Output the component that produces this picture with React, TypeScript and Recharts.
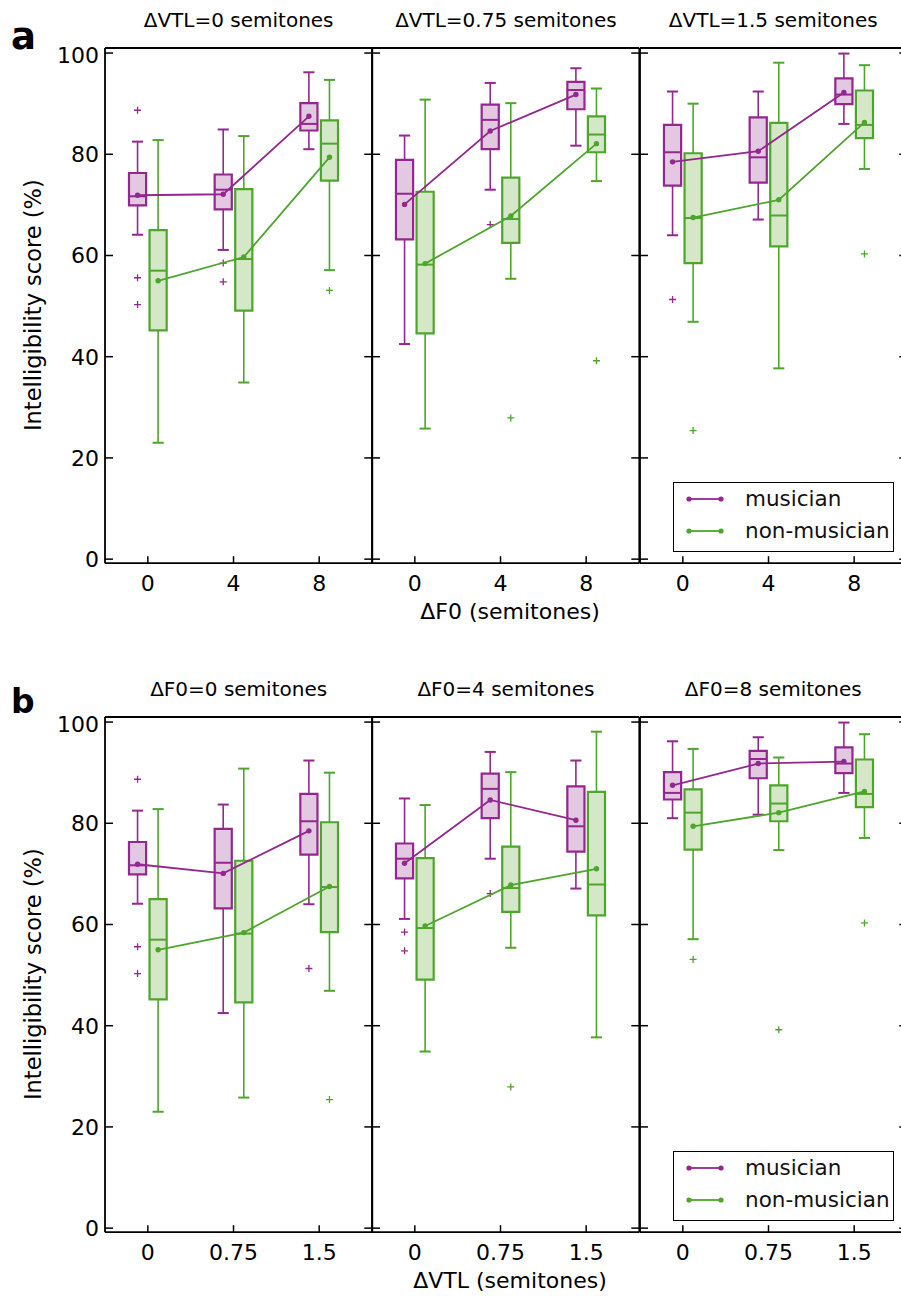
import React from 'react';
import { ComposedChart, XAxis, YAxis, Scatter, ReferenceArea, ReferenceLine } from 'recharts';

const FONT = '"DejaVu Sans", sans-serif';

const vtlSteps = ['0', '0.75', '1.5'];
const f0Steps = ['0', '4', '8'];
const yTicks = [0, 20, 40, 60, 80, 100];
const groupNames = ['musician', 'non-musician'];

type BoxStat = {
  vtl: number; // index into vtlSteps
  f0: number; // index into f0Steps
  lo: number;
  q1: number;
  med: number;
  q3: number;
  hi: number;
  mean: number;
  out: number[];
};

const musician: BoxStat[] = [
  { vtl: 0, f0: 0, lo: 64.1, q1: 69.9, med: 71.7, q3: 76.3, hi: 82.5, mean: 71.9, out: [88.7, 55.6, 50.3] },
  { vtl: 0, f0: 1, lo: 61.1, q1: 69.1, med: 73.0, q3: 76.0, hi: 84.9, mean: 72.1, out: [58.5, 54.8] },
  { vtl: 0, f0: 2, lo: 81.0, q1: 84.7, med: 86.0, q3: 90.1, hi: 96.2, mean: 87.5, out: [] },
  { vtl: 1, f0: 0, lo: 42.5, q1: 63.2, med: 72.2, q3: 78.9, hi: 83.7, mean: 70.1, out: [] },
  { vtl: 1, f0: 1, lo: 73.0, q1: 81.0, med: 86.8, q3: 89.8, hi: 94.1, mean: 84.6, out: [66.1] },
  { vtl: 1, f0: 2, lo: 81.7, q1: 88.9, med: 92.7, q3: 94.3, hi: 97.0, mean: 91.8, out: [] },
  { vtl: 2, f0: 0, lo: 64.0, q1: 73.8, med: 80.4, q3: 85.8, hi: 92.4, mean: 78.5, out: [51.3] },
  { vtl: 2, f0: 1, lo: 67.1, q1: 74.4, med: 79.4, q3: 87.3, hi: 92.4, mean: 80.6, out: [] },
  { vtl: 2, f0: 2, lo: 86.0, q1: 89.9, med: 91.8, q3: 95.0, hi: 99.9, mean: 92.2, out: [] },
];

const nonMusician: BoxStat[] = [
  { vtl: 0, f0: 0, lo: 23.0, q1: 45.2, med: 57.0, q3: 65.0, hi: 82.8, mean: 55.0, out: [] },
  { vtl: 0, f0: 1, lo: 34.9, q1: 49.1, med: 59.3, q3: 73.1, hi: 83.6, mean: 59.7, out: [] },
  { vtl: 0, f0: 2, lo: 57.1, q1: 74.8, med: 82.1, q3: 86.7, hi: 94.7, mean: 79.4, out: [53.1] },
  { vtl: 1, f0: 0, lo: 25.8, q1: 44.6, med: 58.2, q3: 72.6, hi: 90.8, mean: 58.4, out: [] },
  { vtl: 1, f0: 1, lo: 55.4, q1: 62.5, med: 67.2, q3: 75.4, hi: 90.1, mean: 67.8, out: [27.9] },
  { vtl: 1, f0: 2, lo: 74.7, q1: 80.4, med: 83.9, q3: 87.5, hi: 93.0, mean: 82.1, out: [39.2] },
  { vtl: 2, f0: 0, lo: 46.9, q1: 58.5, med: 67.4, q3: 80.2, hi: 90.0, mean: 67.5, out: [25.4] },
  { vtl: 2, f0: 1, lo: 37.7, q1: 61.8, med: 67.9, q3: 86.2, hi: 98.1, mean: 71.0, out: [] },
  { vtl: 2, f0: 2, lo: 77.1, q1: 83.2, med: 85.8, q3: 92.6, hi: 97.6, mean: 86.3, out: [60.3] },
];

const MUS_COLOR = '#93278f';
const MUS_FILL = '#e3c8e1';
const NON_COLOR = '#4da62b';
const NON_FILL = '#d4e8c8';

// layout (px)
const PLOT_LEFT = [105, 372.3, 639.6];
const PLOT_W = 267.3;
const ROW_TOP = [47.6, 716.6];
const PLOT_H = 515.2;
const YW = 60;
const PAD = 5;
const XH = 45;

const X_DOMAIN: [number, number] = [-0.5, 2.62];
const Y_DOMAIN: [number, number] = [-0.8, 101];
const BOX_HALF = 0.1;
const CAP_HALF = 0.065;

type CatKey = 'vtl' | 'f0';

const boxMarks = (stats: BoxStat[], catKey: CatKey, off: number, color: string, fill: string, id: string) =>
  stats.flatMap((s, i) => {
    const c = s[catKey] + off;
    const line = (k: string, a: { x: number; y: number }, b: { x: number; y: number }, w = 1.6) => (
      <ReferenceLine key={`${id}-${k}-${i}`} segment={[a, b]} stroke={color} strokeWidth={w} ifOverflow="visible" />
    );
    return [
      line('wl', { x: c, y: s.lo }, { x: c, y: s.q1 }),
      line('wh', { x: c, y: s.q3 }, { x: c, y: s.hi }),
      line('cl', { x: c - CAP_HALF, y: s.lo }, { x: c + CAP_HALF, y: s.lo }, 2),
      line('ch', { x: c - CAP_HALF, y: s.hi }, { x: c + CAP_HALF, y: s.hi }, 2),
      <ReferenceArea
        key={`${id}-box-${i}`}
        x1={c - BOX_HALF}
        x2={c + BOX_HALF}
        y1={s.q1}
        y2={s.q3}
        fill={fill}
        fillOpacity={1}
        stroke={color}
        strokeWidth={2.2}
        ifOverflow="visible"
      />,
      line('md', { x: c - BOX_HALF, y: s.med }, { x: c + BOX_HALF, y: s.med }, 2),
    ];
  });

const plusShape = (color: string) => (p: any) => (
  <path d={`M${p.cx - 3.5},${p.cy}h7M${p.cx},${p.cy - 3.5}v7`} stroke={color} strokeWidth={1.3} fill="none" />
);
const dotShape = (color: string) => (p: any) => <circle cx={p.cx} cy={p.cy} r={2.7} fill={color} />;

interface PanelProps {
  left: number;
  top: number;
  mus: BoxStat[];
  non: BoxStat[];
  catKey: CatKey;
  tickLabels: string[];
  showY: boolean;
}

const axisLine = { stroke: '#000', strokeWidth: 1.8 };
const tickLine = { stroke: '#000', strokeWidth: 1.5 };
const tickText = { fill: '#000', fontSize: 22, fontFamily: FONT };

const Panel = ({ left, top, mus, non, catKey, tickLabels, showY }: PanelProps) => {
  const groups = [
    { stats: mus, off: -0.12, color: MUS_COLOR, fill: MUS_FILL, id: 'm' },
    { stats: non, off: 0.12, color: NON_COLOR, fill: NON_FILL, id: 'n' },
  ];
  return (
    <div style={{ position: 'absolute', left: left - YW, top: top - PAD - 1 }}>
      <ComposedChart width={YW + PLOT_W + PAD + 1} height={PAD + 1 + PLOT_H + XH} margin={{ top: PAD, right: PAD, bottom: 0, left: 0 }}>
        <XAxis
          dataKey="x"
          type="number"
          domain={X_DOMAIN}
          ticks={[0, 1, 2]}
          allowDataOverflow
          height={XH}
          tickSize={-7}
          tickMargin={19}
          axisLine={axisLine}
          tickLine={tickLine}
          tick={tickText}
          tickFormatter={(v: number) => tickLabels[v]}
        />
        <XAxis
          xAxisId="top"
          orientation="top"
          type="number"
          domain={X_DOMAIN}
          ticks={[0, 1, 2]}
          allowDataOverflow
          height={1}
          tickSize={-7}
          axisLine={axisLine}
          tickLine={tickLine}
          tickFormatter={() => ''}
        />
        <YAxis
          type="number"
          domain={Y_DOMAIN}
          ticks={yTicks}
          allowDataOverflow
          width={YW}
          tickSize={-8}
          tickMargin={14}
          axisLine={axisLine}
          tickLine={tickLine}
          tick={tickText}
          tickFormatter={(v: number) => (showY ? String(v) : '')}
        />
        <YAxis
          yAxisId="right"
          orientation="right"
          type="number"
          domain={Y_DOMAIN}
          ticks={yTicks}
          allowDataOverflow
          width={1}
          tickSize={-8}
          axisLine={axisLine}
          tickLine={tickLine}
          tickFormatter={() => ''}
        />
        {groups.flatMap((g) => boxMarks(g.stats, catKey, g.off, g.color, g.fill, g.id))}
        {groups.map((g) => (
          <Scatter
            key={`out-${g.id}`}
            data={g.stats.flatMap((s) => s.out.map((v) => ({ x: s[catKey] + g.off, y: v })))}
            dataKey="y"
            shape={plusShape(g.color)}
            isAnimationActive={false}
          />
        ))}
        {groups.map((g) => (
          <Scatter
            key={`mean-${g.id}`}
            data={g.stats.map((s) => ({ x: s[catKey] + g.off, y: s.mean }))}
            dataKey="y"
            line={{ stroke: g.color, strokeWidth: 1.8 }}
            lineType="joint"
            shape={dotShape(g.color)}
            isAnimationActive={false}
          />
        ))}
      </ComposedChart>
    </div>
  );
};

const LegendBox = ({ top }: { top: number }) => (
  <div
    style={{
      position: 'absolute',
      left: 673,
      top,
      width: 219,
      height: 68,
      border: '1.5px solid #000',
      background: '#fff',
      fontFamily: FONT,
      fontSize: 21.5,
    }}
  >
    {groupNames.map((name, i) => {
      const color = i === 0 ? MUS_COLOR : NON_COLOR;
      const cy = i === 0 ? 16 : 48;
      return (
        <div key={name} style={{ position: 'absolute', left: 0, top: cy - 13, height: 26, width: '100%' }}>
          <svg width={40} height={26} style={{ position: 'absolute', left: 12, top: 0 }}>
            <line x1={3} y1={13} x2={35} y2={13} stroke={color} strokeWidth={1.8} />
            <circle cx={3} cy={13} r={2.6} fill={color} />
            <circle cx={35} cy={13} r={2.6} fill={color} />
          </svg>
          <span style={{ position: 'absolute', left: 71, top: 0, lineHeight: '26px', color: '#111' }}>{name}</span>
        </div>
      );
    })}
  </div>
);

const App = () => {
  const rows = [
    {
      top: ROW_TOP[0],
      catKey: 'f0' as CatKey,
      panelKey: 'vtl' as CatKey,
      ticks: f0Steps,
      titles: vtlSteps.map((v) => `\u0394VTL=${v} semitones`),
      xLabel: '\u0394F0 (semitones)',
      letter: 'a',
    },
    {
      top: ROW_TOP[1],
      catKey: 'vtl' as CatKey,
      panelKey: 'f0' as CatKey,
      ticks: vtlSteps,
      titles: f0Steps.map((v) => `\u0394F0=${v} semitones`),
      xLabel: '\u0394VTL (semitones)',
      letter: 'b',
    },
  ];

  return (
    <div style={{ position: 'absolute', left: 0, top: 0, width: 901, height: 1296, overflow: 'hidden', background: '#fff' }}>
      {rows.map((r, ri) =>
        [0, 1, 2].map((p) => {
          const pick = (list: BoxStat[]) =>
            list.filter((s) => s[r.panelKey] === p).sort((a, b) => a[r.catKey] - b[r.catKey]);
          return (
            <Panel
              key={`${ri}-${p}`}
              left={PLOT_LEFT[p]}
              top={r.top}
              mus={pick(musician)}
              non={pick(nonMusician)}
              catKey={r.catKey}
              tickLabels={r.ticks}
              showY={p === 0}
            />
          );
        })
      )}
      {rows.map((r) => (
        <LegendBox key={`lg-${r.letter}`} top={r.top + 434} />
      ))}
      <svg width={901} height={1296} style={{ position: 'absolute', left: 0, top: 0, pointerEvents: 'none' }}>
        {rows.map((r, ri) => (
          <g key={`txt-${ri}`} fontFamily={FONT} fill="#000">
            <text x={11} y={r.top + (ri === 0 ? 1.5 : -4)} fontSize={ri === 0 ? 37 : 33} fontWeight="bold">
              {r.letter}
            </text>
            {r.titles.map((t, p) => (
              <text key={t} x={PLOT_LEFT[p] + PLOT_W / 2} y={r.top - 20.6} fontSize={20} textAnchor="middle">
                {t}
              </text>
            ))}
            <text
              x={33}
              y={r.top + PLOT_H / 2}
              fontSize={22.5}
              textAnchor="middle"
              dominantBaseline="central"
              transform={`rotate(-90 33 ${r.top + PLOT_H / 2})`}
            >
              Intelligibility score (%)
            </text>
            <text x={510} y={r.top + 571} fontSize={22} textAnchor="middle">
              {r.xLabel}
            </text>
          </g>
        ))}
      </svg>
    </div>
  );
};

export default App;
